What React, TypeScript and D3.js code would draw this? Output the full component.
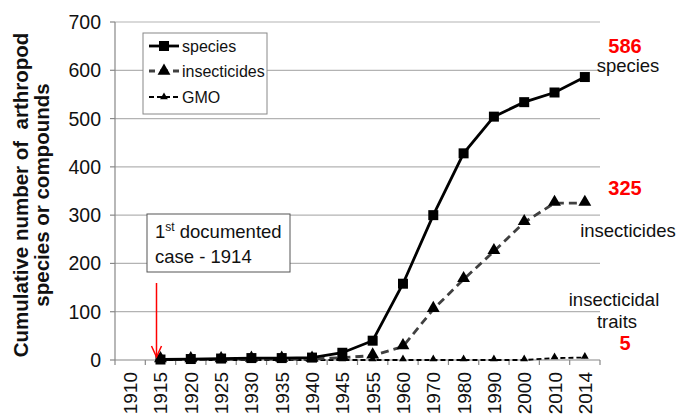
import React from 'react';
import * as d3 from 'd3';

const years = ['1910', '1915', '1920', '1925', '1930', '1935', '1940', '1945', '1955', '1960', '1970', '1980', '1990', '2000', '2010', '2014'];
// null = no point for that year
const species = [null, 1, 2, 3, 4, 4, 5, 15, 40, 158, 300, 428, 504, 534, 554, 586];
const insecticides = [null, 1, 1, 1, 2, 2, 2, 5, 9, 28, 105, 167, 225, 285, 325, 325];
const gmo = [null, 0, 0, 0, 0, 0, 0, 0, 0, 0, 0, 0, 0, 0, 4, 5];
const yTicks = [0, 100, 200, 300, 400, 500, 600, 700];

const W = 681;
const H = 420;
const margin = { top: 22, right: 81, bottom: 60, left: 115 };
const font = 'Arial, "Liberation Sans", sans-serif';

export default function App() {
  const x = d3
    .scaleBand()
    .domain(years)
    .range([margin.left, W - margin.right])
    .padding(0);
  const y = d3
    .scaleLinear()
    .domain([0, 700])
    .range([H - margin.bottom, margin.top]);

  const cx = (i: number) => (x(years[i]) as number) + x.bandwidth() / 2;

  const mkLine = (vals: (number | null)[]) =>
    d3
      .line<number | null>()
      .defined((d) => d != null)
      .x((_, i) => cx(i))
      .y((d) => y(d as number))(vals) as string;

  const tri = d3.symbol().type(d3.symbolTriangle).size(72)() as string;
  const triSmall = d3.symbol().type(d3.symbolTriangle).size(26)() as string;
  const sq = d3.symbol().type(d3.symbolSquare).size(100)() as string;

  const x0 = margin.left;
  const x1 = W - margin.right;
  const y0 = y(0);

  return (
    <svg width={W} height={H} style={{ position: 'absolute', left: 0, top: 0, background: '#fff' }} fontFamily={font}>
      {/* grid */}
      {yTicks.slice(1).map((t) => (
        <line key={t} x1={x0} x2={x1} y1={y(t)} y2={y(t)} stroke="#b3b3b3" strokeWidth={1.2} />
      ))}

      {/* y axis */}
      <line x1={x0} x2={x0} y1={y(700)} y2={y0} stroke="#888" strokeWidth={1.2} />
      {yTicks.map((t) => (
        <g key={t}>
          <line x1={x0 - 5} x2={x0} y1={y(t)} y2={y(t)} stroke="#888" strokeWidth={1.2} />
          <text x={x0 - 14} y={y(t) + 7} textAnchor="end" fontSize={19.5} fill="#111">
            {t}
          </text>
        </g>
      ))}

      {/* x axis */}
      <line x1={x0} x2={x1} y1={y0} y2={y0} stroke="#888" strokeWidth={1.2} />
      {years.map((yr, i) => (
        <g key={yr}>
          <line x1={x(yr)} x2={x(yr)} y1={y0} y2={y0 + 5} stroke="#888" strokeWidth={1.2} />
          <text
            transform={`translate(${cx(i) + 7},${y0 + 12}) rotate(-90)`}
            textAnchor="end"
            fontSize={19}
            fill="#111"
          >
            {yr}
          </text>
        </g>
      ))}
      <line x1={x1} x2={x1} y1={y0} y2={y0 + 5} stroke="#888" strokeWidth={1.2} />

      {/* y title */}
      <text
        transform="translate(28,195) rotate(-90)"
        textAnchor="middle"
        fontSize={20.5}
        fontWeight="bold"
        fill="#111"
        style={{ whiteSpace: 'pre' }}
      >
        <tspan x={0} dy={0}>Cumulative number of  arthropod</tspan>
        <tspan x={0} dy={21}>species or compounds</tspan>
      </text>

      {/* series */}
      <path d={mkLine(gmo)} fill="none" stroke="#000" strokeWidth={1.8} strokeDasharray="5,3" />
      <path d={mkLine(insecticides)} fill="none" stroke="#404040" strokeWidth={2.8} strokeDasharray="8,5" />
      <path d={mkLine(species)} fill="none" stroke="#000" strokeWidth={2.8} />

      {gmo.map((d, i) =>
        d == null ? null : <path key={'g' + i} d={triSmall} transform={`translate(${cx(i)},${y(d) - 1})`} fill="#000" />
      )}
      {insecticides.map((d, i) =>
        d == null ? null : <path key={'i' + i} d={tri} transform={`translate(${cx(i)},${y(d) - 1})`} fill="#000" />
      )}
      {species.map((d, i) =>
        d == null ? null : <path key={'s' + i} d={sq} transform={`translate(${cx(i)},${y(d)})`} fill="#000" />
      )}

      {/* legend */}
      <rect x={143} y={33} width={124} height={81} fill="#fff" stroke="#888" strokeWidth={1} />
      <g>
        <line x1={149} x2={179} y1={46} y2={46} stroke="#000" strokeWidth={2.8} />
        <path d={sq} transform="translate(164,46)" fill="#000" />
        <text x={182} y={52} fontSize={16} fill="#111">species</text>

        <line x1={149} x2={179} y1={71} y2={71} stroke="#404040" strokeWidth={2.8} strokeDasharray="8,5" strokeDashoffset={2} />
        <path d={tri} transform="translate(164,71)" fill="#000" />
        <text x={182} y={77} fontSize={16} fill="#111">insecticides</text>

        <line x1={149} x2={179} y1={97} y2={97} stroke="#000" strokeWidth={1.8} strokeDasharray="5,3" />
        <path d={triSmall} transform="translate(164,97)" fill="#000" />
        <text x={182} y={103} fontSize={16} fill="#111">GMO</text>
      </g>

      {/* annotation */}
      <rect x={147} y={214} width={143} height={58} fill="#fff" stroke="#555" strokeWidth={1} />
      <text x={155} y={238} fontSize={18.5} fill="#111">
        1<tspan dy={-7} fontSize={12}>st</tspan>
        <tspan dy={7}> documented</tspan>
      </text>
      <text x={155} y={263} fontSize={18.5} fill="#111">case - 1914</text>
      <line x1={156.5} x2={156.5} y1={283} y2={356} stroke="#f00" strokeWidth={1.5} />
      <path d="M151.5,346 L156.5,357 L161.5,346" fill="none" stroke="#f00" strokeWidth={1.5} />

      {/* right labels */}
      <text x={625} y={53} textAnchor="middle" fontSize={20} fontWeight="bold" fill="#f00">586</text>
      <text x={628} y={72} textAnchor="middle" fontSize={18.5} fill="#111">species</text>
      <text x={625} y={195} textAnchor="middle" fontSize={20} fontWeight="bold" fill="#f00">325</text>
      <text x={628} y={237} textAnchor="middle" fontSize={18.5} fill="#111">insecticides</text>
      <rect x={564} y={288} width={100} height={22} fill="#fff" />
      <text x={614} y={306} textAnchor="middle" fontSize={18.5} fill="#111">insecticidal</text>
      <text x={617} y={328} textAnchor="middle" fontSize={18.5} fill="#111">traits</text>
      <text x={625} y={350} textAnchor="middle" fontSize={20} fontWeight="bold" fill="#f00">5</text>
    </svg>
  );
}
